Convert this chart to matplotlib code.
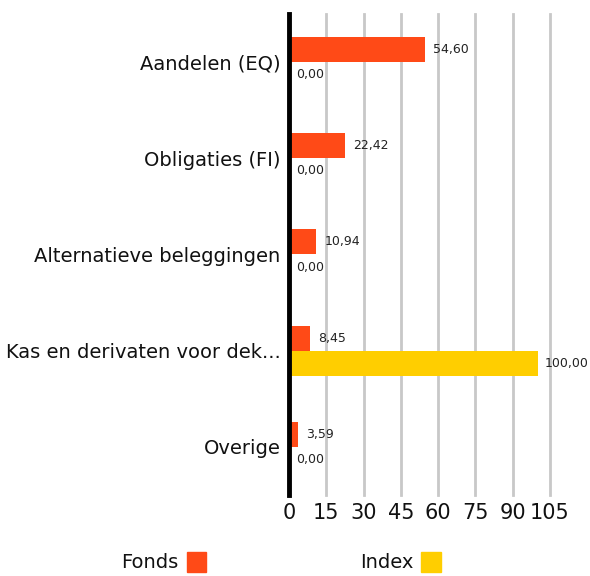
import matplotlib
matplotlib.use("Agg")
import matplotlib.pyplot as plt
from matplotlib.patches import Rectangle

categories = ["Aandelen (EQ)", "Obligaties (FI)", "Alternatieve beleggingen",
              "Kas en derivaten voor dek...", "Overige"]
fonds = [54.60, 22.42, 10.94, 8.45, 3.59]
index_vals = [0.00, 0.00, 0.00, 100.00, 0.00]
xticks = [0, 15, 30, 45, 60, 75, 90, 105]
series_names = ["Fonds", "Index"]
colors = ["#FF4A17", "#FFCE00"]

plt.rcParams['font.family'] = ['DejaVu Sans']

W, H = 590, 576
fig = plt.figure(figsize=(W / 100, H / 100), dpi=100)
ax = fig.add_axes([289 / W, 1 - 495 / H, (550 - 289) / W, (495 - 14) / H])

bh = 0.26
ypos = list(range(len(categories)))
ax.barh([y - bh / 2 for y in ypos], fonds, height=bh, color=colors[0], zorder=3)
ax.barh([y + bh / 2 for y in ypos], index_vals, height=bh, color=colors[1], zorder=3)

def fmt(v):
    return f"{v:.2f}".replace(".", ",")

for y, v in zip(ypos, fonds):
    ax.annotate(fmt(v), (v, y - bh / 2), xytext=(6, 0), textcoords="offset points",
                va="center", ha="left", fontsize=9, color="#222222", annotation_clip=False)
for y, v in zip(ypos, index_vals):
    ax.annotate(fmt(v), (v, y + bh / 2), xytext=(5, 0), textcoords="offset points",
                va="center", ha="left", fontsize=9, color="#222222", annotation_clip=False)

ax.set_xlim(0, 105)
ax.set_ylim(len(categories) - 0.5, -0.5)
ax.set_xticks(xticks)
ax.set_xticklabels([str(t) for t in xticks], fontsize=15, color="#111111")
ax.set_yticks(ypos)
ax.set_yticklabels(categories, fontsize=14, color="#111111")
ax.tick_params(axis="both", length=0)
ax.tick_params(axis="y", pad=6)
ax.tick_params(axis="x", pad=6)
for t in xticks[1:]:
    ax.axvline(t, color="#c8c8c8", lw=2, zorder=1, clip_on=False)
for s in ["top", "right", "bottom"]:
    ax.spines[s].set_visible(False)
ax.spines["left"].set_linewidth(3.5)
ax.spines["left"].set_color("black")
ax.spines["left"].set_zorder(5)

# legend
fig.text(178 / W, 1 - 563 / H, series_names[0], ha="right", va="center", fontsize=14, color="#111111")
fig.add_artist(Rectangle((187 / W, 1 - 572 / H), 19 / W, 20 / H, transform=fig.transFigure, color=colors[0]))
fig.text(413 / W, 1 - 563 / H, series_names[1], ha="right", va="center", fontsize=14, color="#111111")
fig.add_artist(Rectangle((421 / W, 1 - 572 / H), 20 / W, 20 / H, transform=fig.transFigure, color=colors[1]))

fig.savefig("out.png", dpi=100)
